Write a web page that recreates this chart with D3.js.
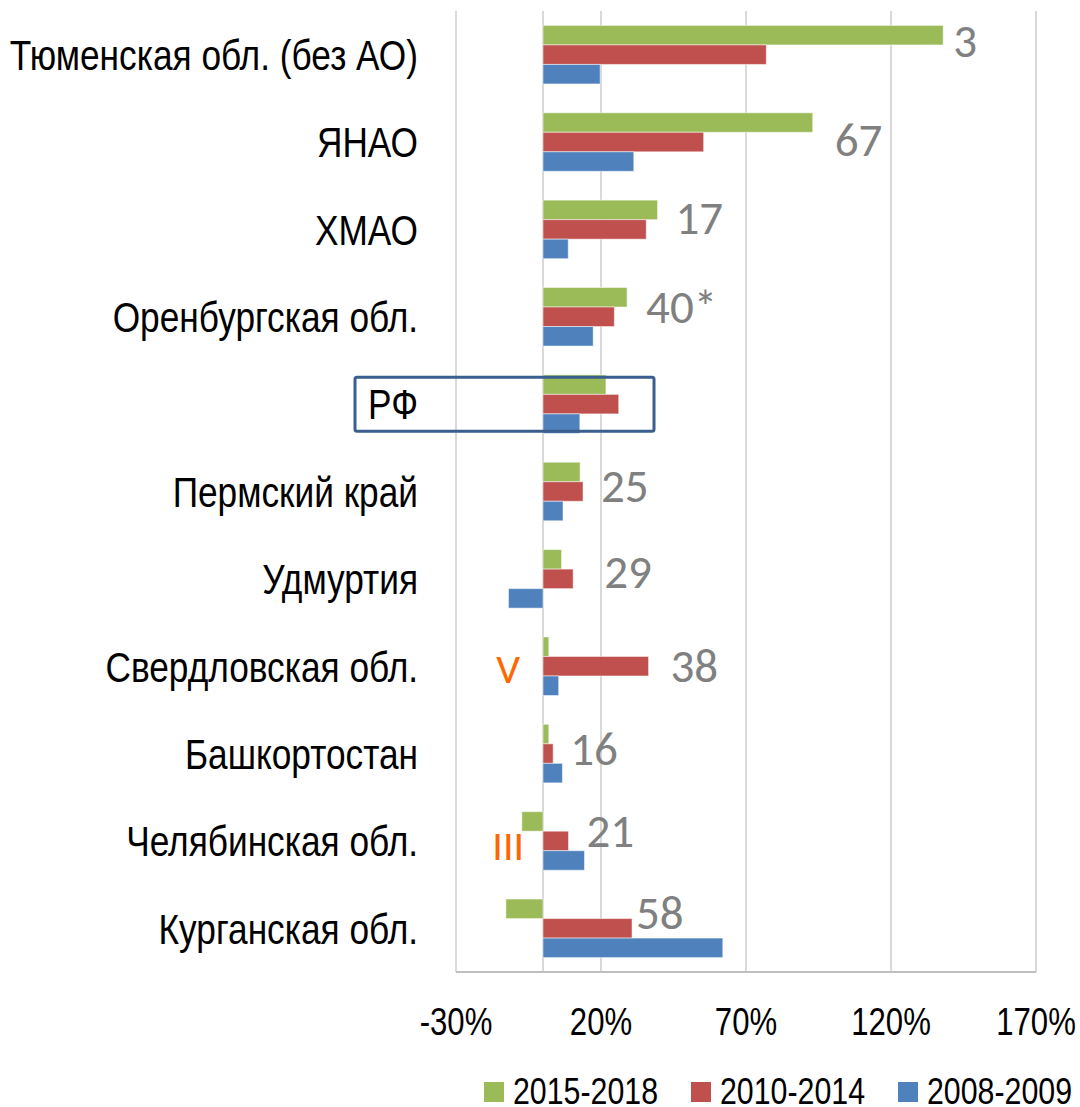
<!DOCTYPE html>
<html>
<head>
<meta charset="utf-8">
<script src="https://cdn.jsdelivr.net/npm/d3@7"></script>
<style>
  body { margin: 0; background: #fff; }
</style>
</head>
<body>
<div id="chart"></div>
<script>
// Datos: regiones (de arriba abajo) y crecimiento (%) por periodo
const regions = ["Тюменская обл. (без АО)", "ЯНАО", "ХМАО", "Оренбургская обл.", "РФ",
  "Пермский край", "Удмуртия", "Свердловская обл.", "Башкортостан", "Челябинская обл.", "Курганская обл."];
const seriesNames = ["2015-2018", "2010-2014", "2008-2009"];
const v2015 = [138, 93, 39.5, 29, 21.7, 12.8, 6.4, 2, 2, -7.3, -12.8];
const v2010 = [77, 55.4, 35.6, 24.6, 26.1, 13.8, 10.4, 36.4, 3.5, 8.8, 30.7];
const v2008 = [19.7, 31.3, 8.7, 17.3, 12.7, 6.9, -11.9, 5.4, 6.7, 14.3, 62];
const notes = ["3", "67", "17", "40*", "", "25", "29", "38", "16", "21", "58"];
const romans = [["Свердловская обл.", "V"], ["Челябинская обл.", "III"]];
const ticks = [-30, 20, 70, 120, 170];
const highlight = "РФ";

const colors = ["#9BBB59", "#C0504D", "#4F81BD"];
const values = [v2015, v2010, v2008];

// ajustes finos de las notas grises (px)
const noteDx = [10, 22, 18, 19, 0, 18, 31, 22, 17, 18, 4];
const noteDy = [-14, -2, -11, -10, 0, -6, -7, 0, -5, -10, -15];

const width = 1080, height = 1107;
const svg = d3.select("#chart").append("svg")
  .attr("width", width).attr("height", height);

const x = d3.scaleLinear([-30, 170], [456, 1036]);
const y = d3.scaleBand(regions, [11, 972]).paddingInner(0.33).paddingOuter(0.165);
const y1 = d3.scaleBand(seriesNames, [0, y.bandwidth()]);

// no hay Arial Narrow: se estrecha Liberation Sans a mano
const labelFont = "'Liberation Sans', Arial, sans-serif";
const narrow = 0.82;
const noteFont = "Carlito, 'Open Sans', sans-serif";

// rejilla vertical
svg.append("g").selectAll("line")
  .data(ticks.concat([0]))
  .join("line")
  .attr("x1", d => x(d)).attr("x2", d => x(d))
  .attr("y1", 11).attr("y2", 972)
  .attr("stroke", "#D9D9D9").attr("stroke-width", 2);

// eje inferior
svg.append("line")
  .attr("x1", x(-30)).attr("x2", x(170))
  .attr("y1", 972).attr("y2", 972)
  .attr("stroke", "#BFBFBF").attr("stroke-width", 2);

svg.append("g")
  .attr("font-family", labelFont).attr("font-size", 38)
  .attr("text-anchor", "middle")
  .selectAll("text")
  .data(ticks)
  .join("text")
  .attr("transform", d => `translate(${x(d)},1022) scale(${narrow},1)`)
  .attr("dominant-baseline", "central")
  .text(d => d + "%");

// barras
const rows = regions.map((r, i) => ({ r, i }));
const grp = svg.append("g").selectAll("g")
  .data(rows)
  .join("g")
  .attr("transform", d => `translate(0,${y(d.r)})`);

grp.selectAll("rect")
  .data(d => seriesNames.map((s, k) => ({ s, k, v: values[k][d.i] })))
  .join("rect")
  .attr("x", d => x(Math.min(0, d.v)))
  .attr("width", d => Math.abs(x(d.v) - x(0)))
  .attr("y", d => y1(d.s))
  .attr("height", y1.bandwidth())
  .attr("fill", d => colors[d.k])
  .attr("stroke", "#fff").attr("stroke-opacity", 0.5).attr("stroke-width", 1);

// etiquetas de categoría
svg.append("g")
  .attr("font-family", labelFont).attr("font-size", 43)
  .attr("text-anchor", "end")
  .selectAll("text")
  .data(regions)
  .join("text")
  .attr("transform", d => `translate(418,${y(d) + y.bandwidth() / 2}) scale(${narrow},1)`)
  .attr("dominant-baseline", "central")
  .text(d => d);

// notas grises
svg.append("g")
  .attr("font-family", noteFont).attr("font-size", 47)
  .attr("fill", "#808080")
  .selectAll("text")
  .data(rows.filter(d => notes[d.i]))
  .join("text")
  .attr("x", d => x(Math.max(0, v2015[d.i], v2010[d.i])) + noteDx[d.i])
  .attr("y", d => y(d.r) + y.bandwidth() / 2 + noteDy[d.i])
  .attr("dominant-baseline", "central")
  .text(d => notes[d.i]);

// marcas naranjas
svg.append("g")
  .attr("font-family", noteFont).attr("font-size", 42)
  .attr("fill", "#FF6600").attr("text-anchor", "middle")
  .selectAll("text")
  .data(romans)
  .join("text")
  .attr("x", x(-12))
  .attr("y", d => y(d[0]) + y.bandwidth() / 2 + (d[1] === "V" ? 2 : 5))
  .attr("dominant-baseline", "central")
  .text(d => d[1]);

// recuadro RF
const yc = y(highlight) + y.bandwidth() / 2;
svg.append("rect")
  .attr("x", 355).attr("y", yc - 27)
  .attr("width", 299).attr("height", 54)
  .attr("rx", 2)
  .attr("fill", "none").attr("stroke", "#3A5F8F").attr("stroke-width", 3);

// leyenda
const leg = svg.append("g")
  .attr("font-family", labelFont).attr("font-size", 37)
  .selectAll("g")
  .data(seriesNames)
  .join("g")
  .attr("transform", (d, i) => `translate(${484 + i * 207},1091)`);
leg.append("rect")
  .attr("x", 0).attr("y", -9).attr("width", 20).attr("height", 20)
  .attr("fill", (d, i) => colors[i]);
leg.append("text")
  .attr("transform", `translate(29,0) scale(${narrow},1)`)
  .attr("dominant-baseline", "central")
  .text(d => d);
</script>
</body>
</html>
